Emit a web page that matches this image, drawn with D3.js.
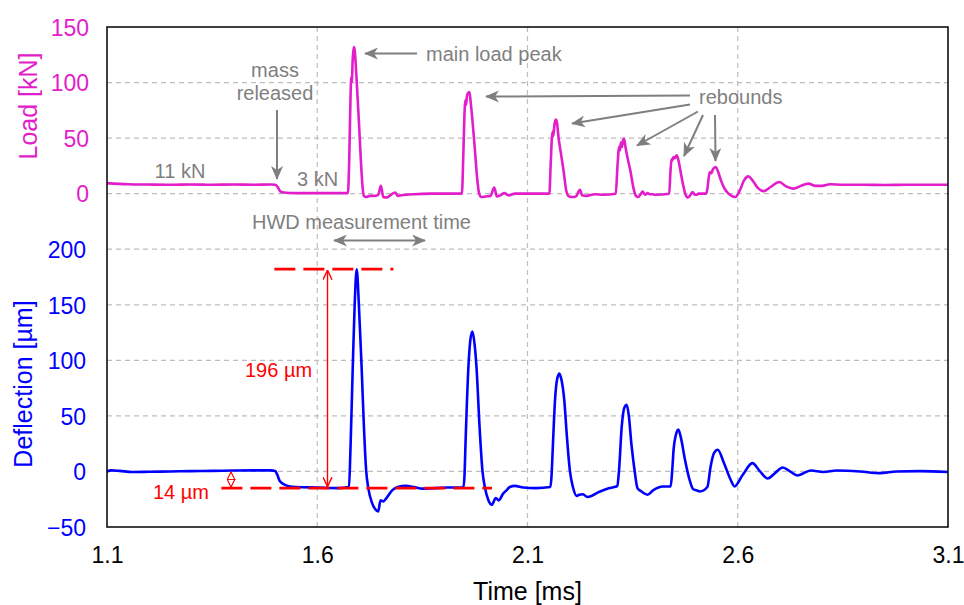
<!DOCTYPE html>
<html><head><meta charset="utf-8">
<script src="https://cdn.jsdelivr.net/npm/d3@7"></script>
<style>
html,body{margin:0;padding:0;background:#fff;}
svg{display:block;font-family:"Liberation Sans",Arial,sans-serif;}
</style></head>
<body><svg id="c" width="964" height="605"></svg>
<script>
// ---------- DATA ----------
const xTicks = [1.1, 1.6, 2.1, 2.6, 3.1];
const loadTicks = [0, 50, 100, 150];
const deflTicks = [-50, 0, 50, 100, 150, 200];

const loadTime = [1.100,1.150,1.200,1.250,1.300,1.350,1.400,1.450,1.490,1.500,1.506,1.512,1.520,1.550,1.600,1.650,1.673,
 1.676,1.679,1.681,1.6825,1.684,1.6865,1.688,1.690,1.694,1.699,1.704,1.708,1.711,1.716,1.725,1.735,1.745,1.7515,1.757,1.765,1.775,1.785,1.792,1.800,1.830,1.870,1.900,1.944,
 1.947,1.950,1.9525,1.954,1.956,1.9595,1.962,1.965,1.970,1.975,1.980,1.985,1.990,2.000,2.012,2.021,2.027,2.035,2.045,2.055,2.070,2.100,2.130,2.152,
 2.155,2.158,2.160,2.1615,2.164,2.1675,2.170,2.174,2.180,2.186,2.192,2.197,2.205,2.215,2.2248,2.230,2.240,2.260,2.280,2.310,
 2.314,2.318,2.320,2.322,2.3245,2.327,2.3295,2.333,2.338,2.345,2.352,2.358,2.363,2.370,2.3735,2.380,2.386,2.390,2.397,2.405,2.437,
 2.440,2.4425,2.4445,2.447,2.4505,2.4548,2.459,2.464,2.470,2.476,2.4805,2.486,2.4925,2.498,2.503,2.5065,2.525,
 2.528,2.5315,2.534,2.537,2.541,2.5476,2.553,2.560,2.568,2.578,2.594,2.605,2.615,2.625,2.635,2.648,2.662,2.678,2.699,2.715,2.732,2.750,2.768,2.785,2.800,2.820,2.850,2.900,2.950,3.000,3.050,3.100];
const loadKN = [9.5,8.5,8.2,8.0,8.3,8.0,8.2,8.0,8.2,8.0,6,2,1.0,0.5,0.5,0.5,0.5,
 30,85,105,100,118,130,132,125,100,65,28,5,-2,-3,-2,-2,-1,7,-3,-3.5,-1,1,-2,-1.5,-0.5,0,0,0,
 30,70,84,80,88,91,91.5,82,62,39,15,0,-3,-2.5,-2,5.5,-2.5,-1.5,0.5,-1.5,0,0,0,0,
 25,50,56,52,62,66.7,64,50,35,20,3,-2,-3,-2.5,3.5,-1.5,-2,-0.5,-1,0,
 25,42,39,46,42,48,49.5,42,32,20,5,-2,-3,0,2,-1,0.5,-0.5,-0.5,-1,0,
 20,31,30,33,32,34.5,30,20,8,-1,-3.5,-2,1.5,-1,-1,0,0,
 5,16,19.5,18.5,22,24,20,12,5,0,-3,3,12,15.6,12,5,2.3,6,10.5,6.5,4.5,7,9,7,7,8.5,8,8,7.8,8,8,8];

const deflTime = [1.100,1.110,1.130,1.160,1.200,1.250,1.300,1.350,1.400,1.450,1.490,1.500,1.505,1.510,1.518,1.530,1.550,1.600,1.650,1.6755,
 1.679,1.6843,1.689,1.6938,1.699,1.7057,1.711,1.7165,1.7214,1.730,1.738,1.745,1.7505,1.757,1.7645,1.778,1.7915,1.810,1.830,1.850,1.880,1.910,1.9475,
 1.950,1.953,1.9592,1.964,1.9688,1.974,1.979,1.986,1.993,1.999,2.007,2.015,2.0247,2.0317,2.042,2.050,2.058,2.070,2.090,2.120,2.1545,
 2.157,2.160,2.1654,2.170,2.1756,2.181,2.1875,2.193,2.201,2.208,2.217,2.2225,2.2315,2.2425,2.2725,2.295,2.307,2.3135,
 2.3175,2.324,2.330,2.3359,2.341,2.347,2.355,2.3615,2.371,2.3855,2.3985,2.422,2.4405,
 2.444,2.4475,2.453,2.4586,2.465,2.4745,2.4865,2.494,2.502,2.510,2.5277,
 2.5355,2.5434,2.5523,2.5672,2.5831,2.5922,2.612,2.6347,2.653,2.6713,2.6887,2.7069,2.7243,2.7417,2.7742,2.8035,2.8353,2.8908,2.938,2.978,3.033,3.100];
const deflUm = [0,1,0.5,-0.5,-0.3,0,0.3,0.5,0.8,1,1,0.5,-3,-8,-11,-13,-14,-14.5,-15,-14,
 20,92,150,182,150,92,40,0,-15,-28,-34,-36,-26,-27,-24,-17,-14,-13,-14,-15.5,-15,-14.5,-14.5,
 -5,30,92,118,126,115,92,40,0,-15,-26,-30,-24,-26,-20,-17,-14,-13,-14.5,-15,-14,
 -5,20,64,82,88,82,64,35,0,-14,-22,-21,-20.5,-23,-18,-15,-14,-13,
 0,40,57,60,50,25,0,-15,-18,-21,-17,-13.5,-13.5,
 0,20,33,37.6,30,10.5,-9,-16,-17,-18,-14,
 4.5,16.5,19.5,7.6,-7.5,-13.5,-3,7.5,0,-6.3,-1.5,3.6,0,-3.6,0.9,-0.5,0.9,0,-1.5,0,0.3,-0.5];

// ---------- LAYOUT ----------
const W = 964, H = 605;
const L = 107, R = 948, T = 27, B = 527;
const MAG = "#E21DC9", BLUE = "#0000FF", RED = "#FF0000", GRAY = "#7F7F7F", GRID = "#BDBDBD";
const unit = (B - T) / 450;

const x = d3.scaleLinear().domain([1.1, 3.1]).range([L, R]);
const yD = d3.scaleLinear().domain([-50, 200]).range([B, B - 250 * unit]);
const yL = d3.scaleLinear().domain([0, 150]).range([B - 300 * unit, T]);

const svg = d3.select("#c");
svg.append("defs").html(`
 <marker id="ga" viewBox="0 0 14 12" refX="13" refY="6" markerWidth="14" markerHeight="12" markerUnits="userSpaceOnUse" orient="auto-start-reverse">
  <path d="M0,0 L14,6 L0,12 L4,6 Z" fill="${GRAY}"/></marker>
 <marker id="ra" viewBox="0 0 10 10" refX="9.5" refY="5" markerWidth="10" markerHeight="10" markerUnits="userSpaceOnUse" orient="auto-start-reverse">
  <path d="M0,0.5 L9.5,5 L0,9.5" fill="none" stroke="${RED}" stroke-width="1.4"/></marker>
 <marker id="rd" viewBox="0 0 10 10" refX="9.5" refY="5" markerWidth="9" markerHeight="9" markerUnits="userSpaceOnUse" orient="auto-start-reverse">
  <path d="M1,0.8 L9.5,5 L1,9.2 Z" fill="#fff" stroke="${RED}" stroke-width="1.3"/></marker>
`);

// gridlines
const g = svg.append("g");
g.selectAll(".vg").data(xTicks.slice(1, -1)).join("line")
 .attr("x1", d => x(d)).attr("x2", d => x(d)).attr("y1", T).attr("y2", B)
 .attr("stroke", GRID).attr("stroke-width", 1.2).attr("stroke-dasharray", "5,4");
g.selectAll(".hgL").data(loadTicks.slice(0, -1)).join("line")
 .attr("x1", L).attr("x2", R).attr("y1", d => yL(d)).attr("y2", d => yL(d))
 .attr("stroke", GRID).attr("stroke-width", 1.2).attr("stroke-dasharray", "5,4");
g.selectAll(".hgD").data(deflTicks.slice(1)).join("line")
 .attr("x1", L).attr("x2", R).attr("y1", d => yD(d)).attr("y2", d => yD(d))
 .attr("stroke", GRID).attr("stroke-width", 1.2).attr("stroke-dasharray", "5,4");

// axes
const axL = svg.append("g").attr("transform", `translate(${L - 18},0)`)
 .call(d3.axisLeft(yL).tickValues(loadTicks).tickSize(0).tickPadding(0));
axL.select(".domain").remove();
axL.selectAll("text").attr("fill", MAG).style("font-size", "23px").attr("font-family", "Liberation Sans, Arial").attr("dy", "0.36em");

const axD = svg.append("g").attr("transform", `translate(${L - 21},0)`)
 .call(d3.axisLeft(yD).tickValues(deflTicks).tickSize(0).tickPadding(0).tickFormat(d3.format("d")));
axD.select(".domain").remove();
axD.selectAll("text").attr("fill", BLUE).style("font-size", "23px").attr("font-family", "Liberation Sans, Arial").attr("dy", "0.36em");

const axX = svg.append("g").attr("transform", `translate(0,${B + 20})`)
 .call(d3.axisBottom(x).tickValues(xTicks).tickSize(0).tickPadding(0).tickFormat(d3.format(".1f")));
axX.select(".domain").remove();
axX.selectAll("text").attr("fill", "#000").style("font-size", "23px").attr("font-family", "Liberation Sans, Arial").attr("dy", "0.71em");

// axis titles
svg.append("text").attr("transform", `translate(37,106) rotate(-90)`)
 .attr("text-anchor", "middle").attr("fill", MAG).style("font-size", "25px").text("Load [kN]");
svg.append("text").attr("transform", `translate(32,384) rotate(-90)`)
 .attr("text-anchor", "middle").attr("fill", BLUE).style("font-size", "25px").text("Deflection  [µm]");
svg.append("text").attr("x", (L + R) / 2).attr("y", 600)
 .attr("text-anchor", "middle").attr("fill", "#000").style("font-size", "25px").text("Time [ms]");

// curves
const loadData = loadTime.map((t, i) => [t, loadKN[i]]);
const deflData = deflTime.map((t, i) => [t, deflUm[i]]);
svg.append("path").datum(loadData)
 .attr("d", d3.line().x(d => x(d[0])).y(d => yL(d[1])).curve(d3.curveMonotoneX))
 .attr("fill", "none").attr("stroke", MAG).attr("stroke-width", 2.6).attr("stroke-linejoin", "round");

// red annotations
const peakD = 182, baseD = -15, preD = 0;
svg.append("line").attr("x1", x(1.498)).attr("x2", x(1.781)).attr("y1", yD(peakD)).attr("y2", yD(peakD))
 .attr("stroke", RED).attr("stroke-width", 2.8).attr("stroke-dasharray", "21,8");

svg.append("path").datum(deflData)
 .attr("d", d3.line().x(d => x(d[0])).y(d => yD(d[1])).curve(d3.curveMonotoneX))
 .attr("fill", "none").attr("stroke", BLUE).attr("stroke-width", 2.6).attr("stroke-linejoin", "round");

svg.append("line").attr("x1", x(1.372)).attr("x2", x(2.0154)).attr("y1", yD(baseD)).attr("y2", yD(baseD))
 .attr("stroke", RED).attr("stroke-width", 2.8).attr("stroke-dasharray", "21,8");

// 196 µm arrow
svg.append("line").attr("x1", x(1.6244)).attr("x2", x(1.6244)).attr("y1", yD(baseD) - 1.5).attr("y2", yD(peakD) + 1)
 .attr("stroke", RED).attr("stroke-width", 1.4).attr("marker-start", "url(#ra)").attr("marker-end", "url(#ra)");
svg.append("text").attr("x", 245).attr("y", 377).attr("fill", RED).style("font-size", "20px").text("196 µm");
// 14 µm arrow
svg.append("line").attr("x1", x(1.3949)).attr("x2", x(1.3949)).attr("y1", yD(baseD) - 1).attr("y2", yD(preD) + 0.5)
 .attr("stroke", RED).attr("stroke-width", 1.3).attr("marker-start", "url(#rd)").attr("marker-end", "url(#rd)");
svg.append("text").attr("x", 153).attr("y", 499).attr("fill", RED).style("font-size", "20px").text("14 µm");

// frame
svg.append("rect").attr("x", L).attr("y", T).attr("width", R - L).attr("height", B - T)
 .attr("fill", "none").attr("stroke", "#000").attr("stroke-width", 1.5);

// gray annotations
const ga = svg.append("g").attr("fill", GRAY).style("font-size", "20px");
ga.append("text").attr("x", 275).attr("y", 77).attr("text-anchor", "middle").text("mass");
ga.append("text").attr("x", 275).attr("y", 100).attr("text-anchor", "middle").text("released");
ga.append("text").attr("x", 180).attr("y", 178).attr("text-anchor", "middle").text("11 kN");
ga.append("text").attr("x", 297).attr("y", 186).text("3 kN");
ga.append("text").attr("x", 426).attr("y", 61).text("main load peak");
ga.append("text").attr("x", 699).attr("y", 104).text("rebounds");
ga.append("text").attr("x", 252).attr("y", 229).text("HWD measurement time");

const arrows = [
 [277, 110, 277, 179],
 [417, 53.5, 365, 53.5],
 [690, 95.5, 486, 96.5],
 [690, 104.5, 572, 123.5],
 [698, 111.5, 637, 145.5],
 [703, 115, 684, 156],
 [715, 115, 715.5, 161]
];
svg.append("g").selectAll("line").data(arrows).join("line")
 .attr("x1", d => d[0]).attr("y1", d => d[1]).attr("x2", d => d[2]).attr("y2", d => d[3])
 .attr("stroke", GRAY).attr("stroke-width", 2).attr("marker-end", "url(#ga)");
svg.append("line").attr("x1", 334).attr("x2", 425).attr("y1", 240.5).attr("y2", 240.5)
 .attr("stroke", GRAY).attr("stroke-width", 2.2).attr("marker-start", "url(#ga)").attr("marker-end", "url(#ga)");
</script></body></html>
